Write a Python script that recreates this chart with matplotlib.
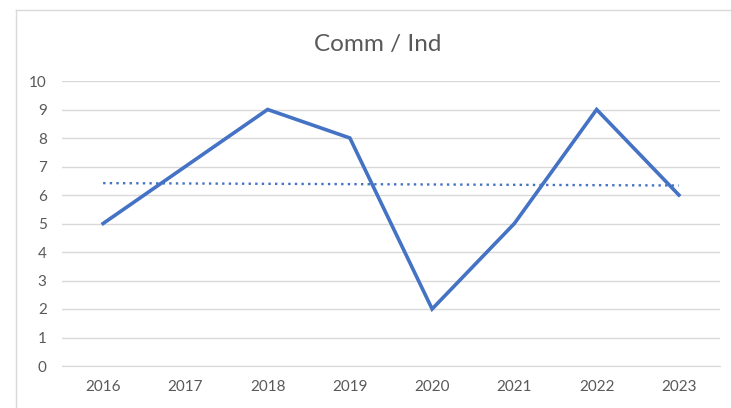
import numpy as np
import matplotlib.pyplot as plt
from matplotlib.lines import Line2D

years = ['2016', '2017', '2018', '2019', '2020', '2021', '2022', '2023']
values = [5, 7, 9, 8, 2, 5, 9, 6]
title = 'Comm / Ind'

blue = '#4472C4'
grid_col = '#D9D9D9'
text_col = '#595959'

plt.rcParams['font.family'] = ['Lato', 'DejaVu Sans']

W, H = 731, 408
fig = plt.figure(figsize=(W / 100, H / 100), dpi=100)
ax = fig.add_axes([62 / W, (H - 366) / H, (720 - 62) / W, (366 - 81) / H])

x = np.arange(len(years))
ax.plot(x, values, color=blue, lw=2.6, solid_joinstyle='miter', zorder=3)

# linear trendline, as Excel draws it
k, b = np.polyfit(x, values, 1)
ax.plot(x, k * x + b, color=blue, lw=1.7, ls=(0, (1, 1.8)), zorder=2)

ax.set_xlim(-0.5, len(years) - 0.5)
ax.set_ylim(0, 10)
ax.set_yticks(range(0, 11))
ax.set_xticks(x)
ax.set_xticklabels(years)
ax.yaxis.grid(True, color=grid_col, lw=1)
ax.set_axisbelow(True)
for s in ['top', 'right', 'left']:
    ax.spines[s].set_visible(False)
ax.spines['bottom'].set_color(grid_col)
ax.tick_params(length=0, labelsize=11, colors=text_col)
ax.tick_params(axis='y', pad=11)
ax.tick_params(axis='x', pad=10)

fig.text(378 / W, 1 - 44 / H, title, ha='center', va='center',
         fontsize=17.5, color=text_col)

# chart area border (runs off the right and bottom edge)
fig.add_artist(Line2D([16 / W, 16 / W], [0, 1 - 10 / H], color=grid_col, lw=1))
fig.add_artist(Line2D([16 / W, 1], [1 - 10 / H, 1 - 10 / H], color=grid_col, lw=1))

fig.savefig('out.png', dpi=100)
